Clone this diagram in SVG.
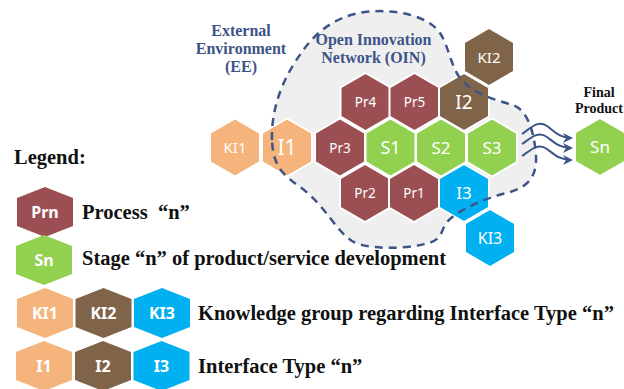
<svg xmlns="http://www.w3.org/2000/svg" xmlns:xlink="http://www.w3.org/1999/xlink" width="624" height="389" viewBox="0 0 624 389">
<style>
.pr{fill:#9c4f52}.st{fill:#92d050}.c1{fill:#f4b47b}.c2{fill:#80644a}.c3{fill:#00b0f0}
.hx{stroke:#ffffff;stroke-width:2}
.lb{font-family:"Noto Sans","Open Sans",sans-serif;fill:#ffffff;text-anchor:middle}
.lg{font-family:"Noto Sans","Open Sans",sans-serif;font-weight:bold;font-size:16px;fill:#ffffff;text-anchor:middle}
.bt{font-family:"Liberation Serif","Times New Roman",serif;font-weight:bold;fill:#3d5488;font-size:16px;text-anchor:middle}
.lt{font-family:"Liberation Serif","Times New Roman",serif;font-weight:bold;fill:#111111;font-size:20.5px}
.fp{font-family:"Liberation Serif","Times New Roman",serif;font-weight:bold;fill:#111111;font-size:14px;text-anchor:middle}
.arr{fill:none;stroke:#3d5488;stroke-width:2}
</style>
<defs>
<polygon id="hex" points="0,-29 25,-14.5 25,14.5 0,29 -25,14.5 -25,-14.5"/>
<polygon id="lhex" points="0,-25 28,-14 28,14 0,25 -28,14 -28,-14"/>
<marker id="ah" viewBox="0 0 10 10" refX="8" refY="5" markerWidth="5" markerHeight="5" orient="auto" markerUnits="strokeWidth">
<path d="M0,0 L10,5 L0,10 L3,5 Z" fill="#3d5488"/>
</marker>
</defs>
<rect width="624" height="389" fill="#ffffff"/>
<path id="oin-area" d="M272,140 C271,105 285,75 302,52 C315,33 335,16 365,12 C400,8 430,18 440,33 C448,45 450,62 458,75 C468,92 495,100 513,105 C527,110 534,130 536,155 C537,175 530,186 510,192 C485,198 458,210 447,222 C440,232 443,240 425,244 C400,250 365,249 352,241 C335,230 325,205 300,187 C285,176 273,168 272,140 Z" fill="#efefef"/>
<g id="KI2"><use xlink:href="#hex" href="#hex" x="489" y="57" class="c2 hx"/><text class="lb" x="489" y="62.5" font-size="15">KI2</text></g>
<g id="Pr4"><use xlink:href="#hex" href="#hex" x="365.5" y="102" class="pr hx"/><text class="lb" x="365.5" y="107" font-size="13.5">Pr4</text></g>
<g id="Pr5"><use xlink:href="#hex" href="#hex" x="414.5" y="102" class="pr hx"/><text class="lb" x="414.5" y="107" font-size="13.5">Pr5</text></g>
<g id="I2"><use xlink:href="#hex" href="#hex" x="464" y="102" class="c2 hx"/><text class="lb" x="464" y="109" font-size="19">I2</text></g>
<g id="KI1"><use xlink:href="#hex" href="#hex" x="235" y="147.5" class="c1 hx"/><text class="lb" x="235" y="153" font-size="15">KI1</text></g>
<g id="I1"><use xlink:href="#hex" href="#hex" x="287" y="147.5" class="c1 hx"/><text class="lb" x="287" y="155" font-size="21">I1</text></g>
<g id="Pr3"><use xlink:href="#hex" href="#hex" x="340" y="147.5" class="pr hx"/><text class="lb" x="340" y="152.5" font-size="13.5">Pr3</text></g>
<g id="S1"><use xlink:href="#hex" href="#hex" x="390.5" y="147.5" class="st hx"/><text class="lb" x="390.5" y="154" font-size="18">S1</text></g>
<g id="S2"><use xlink:href="#hex" href="#hex" x="441" y="147.5" class="st hx"/><text class="lb" x="441" y="153.5" font-size="17">S2</text></g>
<g id="S3"><use xlink:href="#hex" href="#hex" x="492" y="147.5" class="st hx"/><text class="lb" x="492" y="153.5" font-size="17">S3</text></g>
<g id="Pr2"><use xlink:href="#hex" href="#hex" x="365" y="193" class="pr hx"/><text class="lb" x="365" y="198" font-size="13.5">Pr2</text></g>
<g id="Pr1"><use xlink:href="#hex" href="#hex" x="414" y="193" class="pr hx"/><text class="lb" x="414" y="198" font-size="13.5">Pr1</text></g>
<g id="I3"><use xlink:href="#hex" href="#hex" x="464" y="193" class="c3 hx"/><text class="lb" x="464" y="199" font-size="17">I3</text></g>
<g id="KI3"><use xlink:href="#hex" href="#hex" x="490" y="238" class="c3 hx"/><text class="lb" x="490" y="244" font-size="16">KI3</text></g>
<g id="Sn"><use xlink:href="#hex" href="#hex" x="600" y="147" class="st hx"/><text class="lb" x="600" y="153" font-size="17">Sn</text></g>
<g id="connectors">
<path id="oin-boundary" d="M272,140 C271,105 285,75 302,52 C315,33 335,16 365,12 C400,8 430,18 440,33 C448,45 450,62 458,75 C468,92 495,100 513,105 C527,110 534,130 536,155 C537,175 530,186 510,192 C485,198 458,210 447,222 C440,232 443,240 425,244 C400,250 365,249 352,241 C335,230 325,205 300,187 C285,176 273,168 272,140 Z" fill="none" stroke="#3d5488" stroke-width="2.5" stroke-dasharray="8,6"/>
<path class="arr" d="M522,134 C532,127 538,120 547,126 C555,132 560,138 571,138" marker-end="url(#ah)"/>
<path class="arr" d="M522,144 C532,137 538,131 547,137 C555,143 560,148 571,148" marker-end="url(#ah)"/>
<path class="arr" d="M522,156 C532,149 538,143 547,149 C555,155 560,160 571,160" marker-end="url(#ah)"/>
</g>
<g id="label-EE">
<text class="bt" x="241" y="36">External</text>
<text class="bt" x="241" y="54">Environment</text>
<text class="bt" x="241" y="72">(EE)</text>
</g>
<g id="label-OIN">
<text class="bt" x="373.5" y="45">Open Innovation</text>
<text class="bt" x="373.5" y="63">Network (OIN)</text>
</g>
<g id="label-final">
<text class="fp" x="599" y="97">Final</text>
<text class="fp" x="599" y="113">Product</text>
</g>
<g id="legend">
<text class="lt" x="14" y="164">Legend:</text>
<g id="leg-Prn"><use xlink:href="#lhex" href="#lhex" x="45" y="212" class="pr"/><text class="lg" x="45" y="218">Prn</text></g>
<text class="lt" x="82" y="219">Process&#160; “n”</text>
<g id="leg-Sn"><use xlink:href="#lhex" href="#lhex" x="44" y="260" class="st"/><text class="lg" x="44" y="266">Sn</text></g>
<text class="lt" x="82" y="265">Stage “n” of product/service development</text>
<g id="leg-KI1"><use xlink:href="#lhex" href="#lhex" x="45" y="313" class="c1"/><text class="lg" x="45" y="319">KI1</text></g>
<g id="leg-KI2"><use xlink:href="#lhex" href="#lhex" x="103.5" y="313" class="c2"/><text class="lg" x="103.5" y="319">KI2</text></g>
<g id="leg-KI3"><use xlink:href="#lhex" href="#lhex" x="162" y="313" class="c3"/><text class="lg" x="162" y="319">KI3</text></g>
<text class="lt" x="198" y="320">Knowledge group regarding Interface Type “n”</text>
<g id="leg-I1"><use xlink:href="#lhex" href="#lhex" x="44" y="366" class="c1"/><text class="lg" x="44" y="372">I1</text></g>
<g id="leg-I2"><use xlink:href="#lhex" href="#lhex" x="103" y="366" class="c2"/><text class="lg" x="103" y="372">I2</text></g>
<g id="leg-I3"><use xlink:href="#lhex" href="#lhex" x="161.5" y="366" class="c3"/><text class="lg" x="161.5" y="372">I3</text></g>
<text class="lt" x="198" y="373">Interface Type “n”</text>
</g>
</svg>
